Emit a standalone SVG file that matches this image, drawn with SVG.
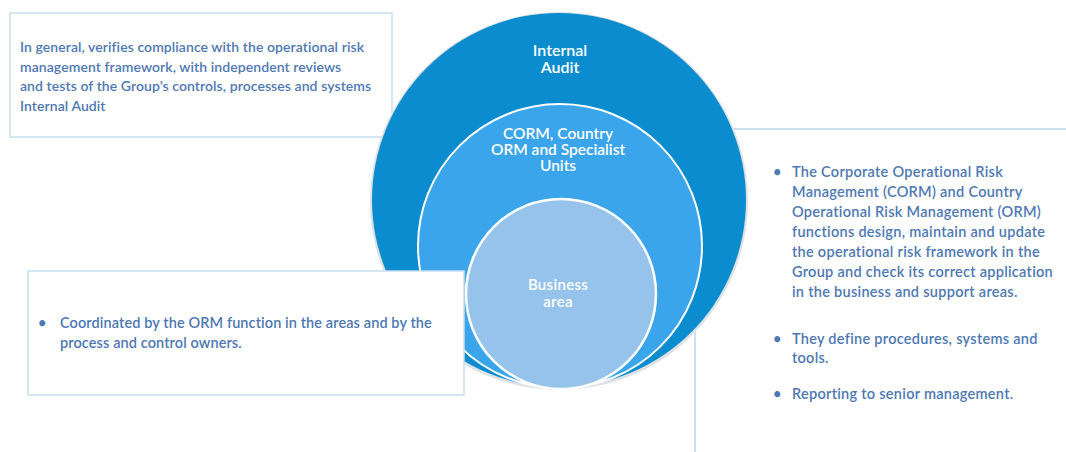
<svg xmlns="http://www.w3.org/2000/svg" width="1066" height="452" viewBox="0 0 1066 452">
<style>
.box{fill:#ffffff;stroke:#c9e0f0;stroke-width:1.5}
.line{stroke:#b9d7ec;stroke-width:1.5;fill:none}
.desc{font-family:Lato,"Open Sans","Liberation Sans",sans-serif;fill:#4e78b2;font-weight:600}
.lbl{font-family:Lato,"Open Sans","Liberation Sans",sans-serif;fill:#ffffff;text-anchor:middle;font-weight:600}
</style>
<rect width="1066" height="452" fill="#ffffff"/>
<g id="right-box">
<rect x="695" y="129" width="390" height="340" fill="#ffffff" class="line"/>
<text class="desc" font-size="14.5" letter-spacing="0.28"><tspan x="773" y="177">•</tspan><tspan x="792" y="177">The Corporate Operational Risk</tspan><tspan x="792" y="197">Management  (CORM) and Country</tspan><tspan x="792" y="217">Operational Risk Management  (ORM)</tspan><tspan x="792" y="237">functions design, maintain and update</tspan><tspan x="792" y="257">the operational risk framework in the</tspan><tspan x="792" y="277">Group and check its correct application</tspan><tspan x="792" y="297">in the business and support areas.</tspan></text>
<text class="desc" font-size="14.5" letter-spacing="0.28"><tspan x="773" y="344">•</tspan><tspan x="792" y="344">They define procedures, systems and</tspan><tspan x="792" y="363">tools.</tspan></text>
<text class="desc" font-size="14.5" letter-spacing="0.28"><tspan x="773" y="399">•</tspan><tspan x="792" y="399">Reporting to senior management.</tspan></text>
</g>
<g id="internal-audit-box">
<rect x="10" y="13" width="382" height="124" class="box"/>
<text class="desc" font-size="14" letter-spacing="0.08"><tspan x="20" y="52">In general, verifies compliance with the operational risk</tspan><tspan x="20" y="72">management framework, with independent reviews</tspan><tspan x="20" y="91">and tests of the Group’s controls, processes and systems</tspan><tspan x="20" y="111">Internal Audit</tspan></text>
</g>
<g id="internal-audit">
<circle cx="559" cy="201" r="189" fill="#dde2e7"/>
<circle cx="559" cy="200" r="187" fill="#0a8ccf"/>
<text class="lbl" font-size="16"><tspan x="560" y="56">Internal</tspan><tspan x="560" y="73">Audit</tspan></text>
</g>
<g id="corm">
<circle cx="560" cy="246" r="142" fill="#3aa5ea" stroke="#ffffff" stroke-width="2"/>
<text class="lbl" font-size="15.5"><tspan x="558" y="139">CORM, Country</tspan><tspan x="558" y="155">ORM and Specialist</tspan><tspan x="558" y="171">Units</tspan></text>
</g>
<g id="business-area">
<circle cx="561" cy="294" r="95" fill="#96c3ec" stroke="#ffffff" stroke-width="2.5"/>
<text class="lbl" font-size="15" letter-spacing="0.3"><tspan x="558" y="290">Business</tspan><tspan x="558" y="307">area</tspan></text>
</g>
<g id="business-box">
<rect x="28" y="271" width="436" height="124" class="box"/>
<text class="desc" font-size="14.5" letter-spacing="0.1"><tspan x="38" y="328">•</tspan><tspan x="60" y="328">Coordinated by the ORM function in the areas and by the</tspan><tspan x="60" y="348">process and control owners.</tspan></text>
</g>
<g id="connectors"/>
</svg>
